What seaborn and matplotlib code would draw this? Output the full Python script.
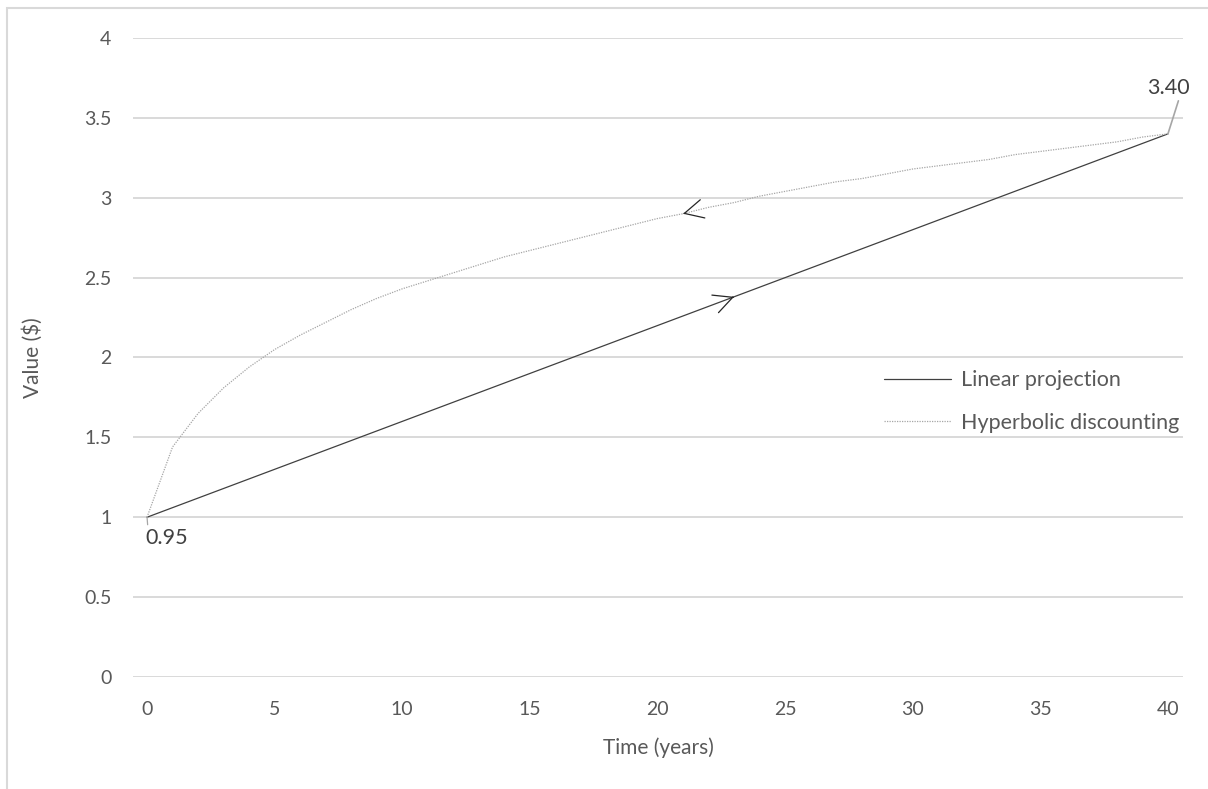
import numpy as np
import pandas as pd
import matplotlib.pyplot as plt
from matplotlib.patches import Rectangle
import seaborn as sns

# values, one per year
years = list(range(0, 41))
linear = [1.00, 1.06, 1.12, 1.18, 1.24, 1.30, 1.36, 1.42, 1.48, 1.54,
          1.60, 1.66, 1.72, 1.78, 1.84, 1.90, 1.96, 2.02, 2.08, 2.14,
          2.20, 2.26, 2.32, 2.38, 2.44, 2.50, 2.56, 2.62, 2.68, 2.74,
          2.80, 2.86, 2.92, 2.98, 3.04, 3.10, 3.16, 3.22, 3.28, 3.34, 3.40]
hyperbolic = [1.00, 1.44, 1.65, 1.81, 1.94, 2.05, 2.14, 2.22, 2.30, 2.37,
              2.43, 2.48, 2.53, 2.58, 2.63, 2.67, 2.71, 2.75, 2.79, 2.83,
              2.87, 2.90, 2.94, 2.97, 3.01, 3.04, 3.07, 3.10, 3.12, 3.15,
              3.18, 3.20, 3.22, 3.24, 3.27, 3.29, 3.31, 3.33, 3.35, 3.38, 3.40]
series_names = ['Linear projection', 'Hyperbolic discounting']
start_label = '0.95'
end_label = '3.40'

df = pd.DataFrame({
    'Time': years * 2,
    'Value': linear + hyperbolic,
    'Series': [series_names[0]] * len(years) + [series_names[1]] * len(years),
})

sns.set_theme(style='white')
plt.rcParams['font.family'] = ['Lato', 'DejaVu Sans']

fig = plt.figure(figsize=(12.08, 7.89), dpi=100)
ax = fig.add_axes([0.1101, 0.1420, 0.8692, 0.8098])

sns.lineplot(data=df, x='Time', y='Value', hue='Series', style='Series',
             palette={series_names[0]: '#404040', series_names[1]: '#A6A6A6'},
             dashes={series_names[0]: '', series_names[1]: (1, 1)},
             linewidth=0.9, ax=ax, sort=False)

ax.set_xlim(-0.55, 40.59)
ax.set_ylim(0, 4)
ax.set_xticks(range(0, 41, 5))
ax.set_yticks(np.arange(0, 4.01, 0.5))
ax.set_yticklabels(['0', '0.5', '1', '1.5', '2', '2.5', '3', '3.5', '4'])
ax.grid(axis='y', color='#D9D9D9', linewidth=1.4)
ax.grid(axis='x', visible=False)
for s in ax.spines.values():
    s.set_visible(False)
ax.tick_params(axis='both', length=0, labelsize=14, colors='#595959')
ax.tick_params(axis='x', pad=17)
ax.tick_params(axis='y', pad=15.5)
ax.set_xlabel('Time (years)', fontsize=15, color='#595959', labelpad=14)
ax.set_ylabel('Value ($)', fontsize=15, color='#595959', labelpad=30)

leg = ax.legend(frameon=False, loc='center left', bbox_to_anchor=(0.697, 0.431),
                fontsize=15.5, handlelength=3.1, labelspacing=1.05,
                handletextpad=0.45)
for t in leg.get_texts():
    t.set_color('#595959')

# direction arrows drawn along each series
def chevron(xs, ys, at, back):
    x1 = at
    x0 = at - 0.05 if not back else at + 0.05
    y1 = np.interp(x1, xs, ys)
    y0 = np.interp(x0, xs, ys)
    ax.annotate('', xy=(x1, y1), xytext=(x0, y0),
                arrowprops=dict(arrowstyle='->,head_length=0.9,head_width=0.45',
                                color='#262626', lw=0.9, mutation_scale=15,
                                shrinkA=0, shrinkB=0))

chevron(years, linear, 23, back=False)
chevron(years, hyperbolic, 21, back=True)

# data labels
ax.annotate(start_label, xy=(years[0], hyperbolic[0]), xytext=(years[0] - 0.05, 0.87),
            ha='left', va='center', fontsize=15.5, color='#404040',
            arrowprops=dict(arrowstyle='-', color='#A6A6A6', lw=0.9,
                            shrinkA=0, shrinkB=0, relpos=(0.05, 1)))
ax.annotate(end_label, xy=(years[-1], hyperbolic[-1]), xytext=(40.0, 3.69),
            ha='center', va='center', fontsize=15.5, color='#404040',
            annotation_clip=False,
            arrowprops=dict(arrowstyle='-', color='#A6A6A6', lw=1.2,
                            shrinkA=0, shrinkB=0, relpos=(0.77, 0)))

fig.add_artist(Rectangle((7 / 1208, -0.1), 1.2, 1.1 - 8 / 789,
                         transform=fig.transFigure, fill=False,
                         edgecolor='#D9D9D9', linewidth=1.5, clip_on=False))

fig.savefig('out.png', dpi=100, facecolor='white')
